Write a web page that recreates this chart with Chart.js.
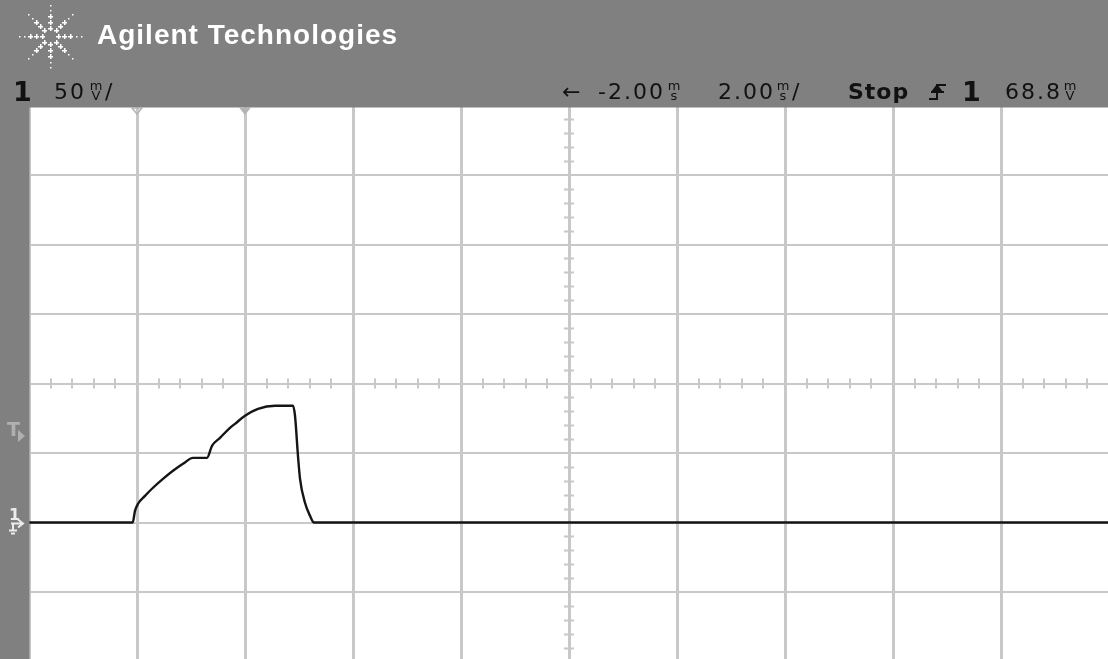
<!DOCTYPE html>
<html>
<head>
<meta charset="utf-8">
<script src="https://cdn.jsdelivr.net/npm/chart.js@4/dist/chart.umd.min.js"></script>
<style>
html,body{margin:0;padding:0;background:#808080;overflow:hidden;width:1108px;height:659px;}
#c{position:absolute;left:0;top:0;}
.t{position:absolute;white-space:nowrap;font-family:"DejaVu Sans",sans-serif;color:#111111;font-size:22px;line-height:22px;letter-spacing:2px;}
.u{position:absolute;white-space:nowrap;font-family:"DejaVu Sans",sans-serif;color:#111111;font-size:13px;line-height:10px;text-align:center;width:16px;}
#brand{position:absolute;left:97px;top:21px;font-family:"Liberation Sans",Arial,sans-serif;font-weight:bold;font-size:28px;line-height:28px;letter-spacing:1px;color:#ffffff;white-space:nowrap;}
.b{font-weight:bold;}
.m{position:absolute;white-space:nowrap;font-family:"DejaVu Sans",sans-serif;font-weight:bold;}
</style>
</head>
<body>
<canvas id="c" width="1112" height="664"></canvas>
<div id="brand">Agilent Technologies</div>
<div class="t b" style="left:13px;top:78px;font-size:27px;line-height:27px;">1</div>
<div class="t" style="left:54px;top:81px;">50</div>
<div class="u" style="left:88px;top:81px;">m<br>V</div>
<div class="t" style="left:105px;top:81px;letter-spacing:0">/</div>
<div class="t" style="left:562px;top:81px;letter-spacing:0">←</div>
<div class="t" style="left:598px;top:81px;">-2.00</div>
<div class="u" style="left:666px;top:81px;">m<br>s</div>
<div class="t" style="left:718px;top:81px;">2.00</div>
<div class="u" style="left:775px;top:81px;">m<br>s</div>
<div class="t" style="left:792px;top:81px;letter-spacing:0">/</div>
<div class="t b" style="left:848px;top:81px;letter-spacing:1px;">Stop</div>
<div class="t b" style="left:962px;top:78px;font-size:27px;line-height:27px;">1</div>
<div class="t" style="left:1005px;top:81px;">68.8</div>
<div class="u" style="left:1062px;top:81px;">m<br>V</div>
<div class="m" style="left:7px;top:420px;font-size:19px;line-height:19px;color:#b0b0b0;">T</div>
<div class="m" style="left:9px;top:507px;font-size:16px;line-height:16px;color:#ececec;">1</div>
<script>
// Waveform (time in ms, trigger at 0; voltage in mV above ground)
const timeMs = [-4, -2.08, -2.037, -1.981, -1.852, -1.704, -1.519, -1.333, -1.148, -0.963, -0.704, -0.611, -0.463, -0.278, -0.185, 0, 0.241, 0.556, 0.889, 0.926, 0.981, 1.019, 1.111, 1.204, 1.278, 16];
const voltsMv = [0, 0, 8.4, 13.5, 19.2, 25.0, 31.4, 37.2, 42.2, 46.5, 46.5, 55.2, 60.9, 68.1, 71.0, 76.8, 81.8, 84.0, 84.0, 76.8, 48.0, 31.4, 14.2, 4.8, 0, 0];
// Screen: 10 divisions of 2.00 ms, 8 divisions of 50 mV
const timeRange = [-4, 16];
const timePerDiv = 2;
const voltRange = [-100, 300];
const voltPerDiv = 50;

const points = timeMs.map((t, i) => ({x: t, y: voltsMv[i]}));

const GRID = '#c8c8c8';
const GRAY = '#808080';

const scopePlugin = {
  id: 'scope',
  beforeDraw(chart) {
    const {ctx, chartArea: a} = chart;
    ctx.save();
    ctx.fillStyle = GRAY;
    ctx.fillRect(0, 0, chart.width, chart.height);
    ctx.fillStyle = '#ffffff';
    ctx.fillRect(a.left, a.top, a.right - a.left, a.bottom - a.top);
    ctx.restore();
  },
  beforeDatasetsDraw(chart) {
    const {ctx, scales: {x, y}} = chart;
    const xc = x.getPixelForValue((timeRange[0] + timeRange[1]) / 2);
    const yc = y.getPixelForValue((voltRange[0] + voltRange[1]) / 2);
    ctx.save();
    ctx.strokeStyle = GRID;
    ctx.lineWidth = 2;
    ctx.beginPath();
    const tstep = timePerDiv / 5;
    for (let k = 0; k <= 50; k++) {
      if (k % 5 === 0) continue;
      const px = Math.round(x.getPixelForValue(timeRange[0] + k * tstep));
      ctx.moveTo(px, yc - 5); ctx.lineTo(px, yc + 5);
    }
    const vstep = voltPerDiv / 5;
    for (let k = 0; k <= 40; k++) {
      if (k % 5 === 0) continue;
      const py = Math.round(y.getPixelForValue(voltRange[0] + k * vstep)) + 0.5;
      ctx.moveTo(xc - 5, py); ctx.lineTo(xc + 5, py);
    }
    ctx.stroke();
    ctx.restore();
  },
  afterDraw(chart) {
    const {ctx, scales: {x, y}} = chart;
    ctx.save();
    ctx.fillStyle = GRAY;
    ctx.fillRect(0, 0, chart.width, 107.5);
    ctx.fillRect(0, 0, 29.5, chart.height);
    // logo starburst
    ctx.fillStyle = '#ffffff';
    const cx = 50, cy = 36;
    for (let r = 0; r < 8; r++) {
      const ang = r * Math.PI / 4;
      const dx = Math.cos(ang), dy = Math.sin(ang);
      const dists = [8, 14, 20, 26, 31];
      dists.forEach((d, i) => {
        const px = Math.round(cx + dx * d), py = Math.round(cy + dy * d);
        if (i < 3) {
          ctx.fillRect(px - 2, py, 5, 1.5);
          ctx.fillRect(px, py - 2, 1.5, 5);
        } else {
          ctx.fillRect(px, py, 1.5, 1.5);
        }
      });
    }
    // top markers
    const x0 = x.getPixelForValue(-2), xt = x.getPixelForValue(0);
    ctx.fillStyle = '#b4b4b4';
    ctx.beginPath();
    ctx.moveTo(xt - 6, 107.5); ctx.lineTo(xt + 6, 107.5); ctx.lineTo(xt, 115); ctx.closePath(); ctx.fill();
    ctx.strokeStyle = '#b4b4b4'; ctx.lineWidth = 1.5;
    ctx.beginPath();
    ctx.moveTo(x0 - 5, 108); ctx.lineTo(x0 + 5, 108); ctx.lineTo(x0, 114); ctx.closePath(); ctx.stroke();
    // trigger level marker triangle
    ctx.fillStyle = '#b0b0b0';
    ctx.beginPath();
    ctx.moveTo(18, 430); ctx.lineTo(25, 436); ctx.lineTo(18, 442); ctx.closePath(); ctx.fill();
    // ground marker arrow
    const yg = y.getPixelForValue(0);
    ctx.strokeStyle = '#ececec'; ctx.fillStyle = '#ececec'; ctx.lineWidth = 2;
    ctx.beginPath();
    ctx.moveTo(11, yg + 1); ctx.lineTo(22, yg + 1);
    ctx.moveTo(18, yg - 3); ctx.lineTo(23, yg + 1); ctx.lineTo(18, yg + 5);
    ctx.moveTo(13, yg + 1); ctx.lineTo(13, yg + 7);
    ctx.moveTo(9, yg + 8); ctx.lineTo(17, yg + 8);
    ctx.moveTo(11, yg + 11); ctx.lineTo(15, yg + 11);
    ctx.stroke();
    // trigger edge symbol in header
    ctx.strokeStyle = '#111111'; ctx.fillStyle = '#111111'; ctx.lineWidth = 2;
    ctx.beginPath();
    ctx.moveTo(929, 99); ctx.lineTo(937, 99); ctx.lineTo(937, 85); ctx.lineTo(946, 85);
    ctx.moveTo(931, 92); ctx.lineTo(944, 92);
    ctx.stroke();
    ctx.beginPath();
    ctx.moveTo(931, 92); ctx.lineTo(937, 84); ctx.lineTo(943, 92); ctx.closePath(); ctx.fill();
    ctx.restore();
  }
};

new Chart(document.getElementById('c'), {
  type: 'line',
  data: {
    datasets: [{
      data: points,
      borderColor: '#151515',
      borderWidth: 2.4,
      pointRadius: 0,
      cubicInterpolationMode: 'monotone',
      fill: false
    }]
  },
  options: {
    responsive: false,
    animation: false,
    devicePixelRatio: 1,
    layout: {padding: {left: 29, top: 105.5, right: 3, bottom: 2.5}},
    plugins: {legend: {display: false}, tooltip: {enabled: false}},
    scales: {
      x: {
        type: 'linear', min: timeRange[0], max: timeRange[1],
        ticks: {display: false, stepSize: timePerDiv},
        grid: {color: GRID, lineWidth: 3, drawTicks: false},
        border: {display: false}
      },
      y: {
        type: 'linear', min: voltRange[0], max: voltRange[1],
        ticks: {display: false, stepSize: voltPerDiv},
        grid: {color: GRID, lineWidth: 2, drawTicks: false},
        border: {display: false}
      }
    }
  },
  plugins: [scopePlugin]
});
</script>
</body>
</html>
